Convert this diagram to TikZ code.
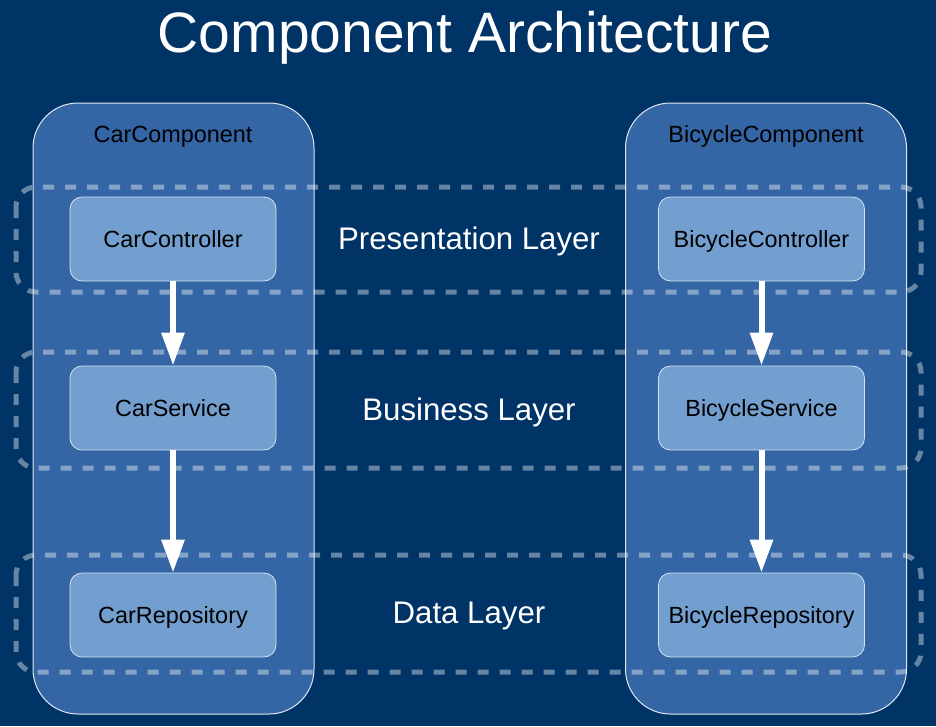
\documentclass[tikz,border=0pt]{standalone}
\usepackage{fontspec}
\setmainfont{Liberation Sans}
\usetikzlibrary{arrows.meta}
\definecolor{bg}{RGB}{0,51,102}
\definecolor{compfill}{RGB}{52,101,164}
\definecolor{boxfill}{RGB}{114,159,207}

\begin{document}
\begin{tikzpicture}[x=1pt,y=-1pt,
	comp/.style={draw=white!85!compfill,line width=1pt,fill=compfill,rounded corners=45pt,minimum width=281pt,minimum height=611pt,inner sep=0pt},
	box/.style={draw=white!70!boxfill,line width=0.8pt,fill=boxfill,rounded corners=12pt,minimum width=206pt,minimum height=84pt,inner sep=0pt,text height=17pt,text depth=0pt,font=\fontsize{23.4}{28}\selectfont},
	layer/.style={draw=white,draw opacity=0.4,line width=5pt,dash pattern=on 11pt off 11pt,rounded corners=20pt},
	flow/.style={draw=white,line width=6pt,-{Triangle[length=33pt,width=22pt]}}]
		\fill[bg] (0,0) rectangle (936,726);
		\node[anchor=base,text=white,font=\fontsize{57}{66}\selectfont] (title) at (465,52) {Component Architecture};
		% components
		\node[comp] (car) at (173.5,408.5) {};
		\node[comp] (bike) at (766,408.5) {};
		\node[anchor=base,font=\fontsize{23.4}{28}\selectfont] (car-l) at (173,142) {CarComponent};
		\node[anchor=base,font=\fontsize{23.4}{28}\selectfont] (bike-l) at (766,142) {BicycleComponent};
		% layers
		\foreach \t/\b/\name [count=\i] in {187/292/Presentation Layer,352/468/Business Layer,555/672/Data Layer}
			{
				\draw[layer] (16,\t) rectangle (921,\b);
				\node[anchor=base,text=white,font=\fontsize{31.2}{37}\selectfont] (lay-\i) at (469,{(\t+\b)/2+10}) {\name};
			}
		% boxes
		\node[box] (car-1) at (173,239) {CarController};
		\node[box] (car-2) at (173,408) {CarService};
		\node[box] (car-3) at (173,615) {CarRepository};
		\node[box] (bike-1) at (761.5,239) {BicycleController};
		\node[box] (bike-2) at (761.5,408) {BicycleService};
		\node[box] (bike-3) at (761.5,615) {BicycleRepository};
		\draw[flow] (car-1) -- (car-2);
		\draw[flow] (car-2) -- (car-3);
		\draw[flow] (bike-1) -- (bike-2);
		\draw[flow] (bike-2) -- (bike-3);
	\end{tikzpicture}
\end{document}
